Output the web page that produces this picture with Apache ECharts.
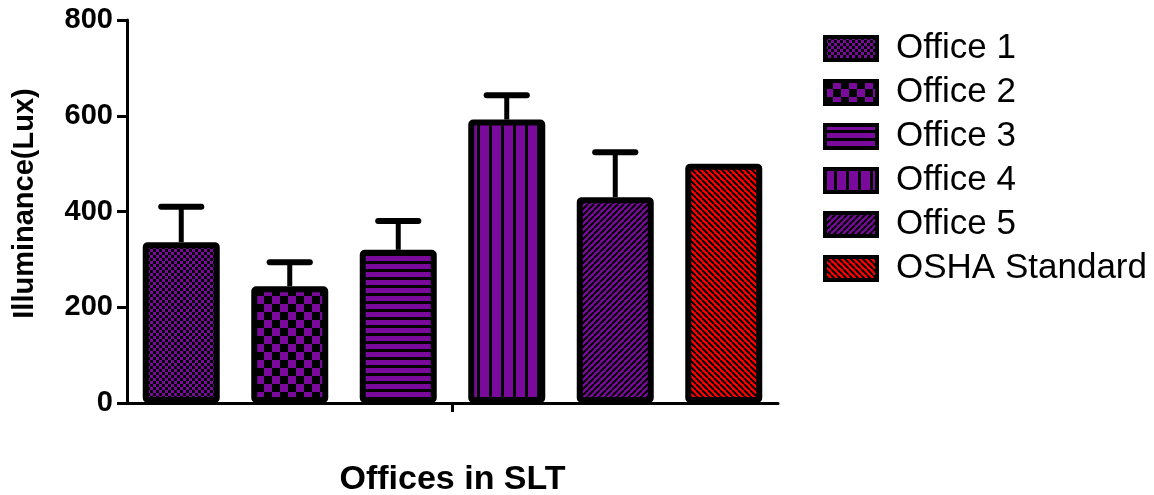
<!DOCTYPE html>
<html>
<head>
<meta charset="utf-8">
<script src="https://cdn.jsdelivr.net/npm/echarts@6/dist/echarts.min.js"></script>
<style>
  html, body { margin: 0; padding: 0; background: #fff; }
  #chart { width: 1154px; height: 495px; }
</style>
</head>
<body>
<div id="chart"></div>
<script>
// Mean illuminance per office (lux) and the upper end of each error bar.
const offices = ['Office 1', 'Office 2', 'Office 3', 'Office 4', 'Office 5', 'OSHA Standard'];
const illuminance = [336, 244, 320, 592, 430, 500];
const upperError = [410, 294, 380, 643, 524, null];
const yTicks = [0, 200, 400, 600, 800];

const PURPLE = '#7a0a9c';
const RED = '#ff0000';
const FONT = '"Liberation Sans", Arial, Helvetica, sans-serif';

// Small repeating canvas tiles used as hatch fills.
function tile(w, h, bg, draw) {
  const c = document.createElement('canvas');
  c.width = w; c.height = h;
  const g = c.getContext('2d');
  g.fillStyle = bg; g.fillRect(0, 0, w, h);
  g.fillStyle = '#000'; g.strokeStyle = '#000';
  draw(g, w, h);
  return { image: c, repeat: 'repeat' };
}
function checker(cell, bg) {
  return tile(cell * 2, cell * 2, bg, g => {
    g.fillRect(0, 0, cell, cell);
    g.fillRect(cell, cell, cell, cell);
  });
}
function hStripes(bg) {
  return tile(8, 8, bg, g => g.fillRect(0, 5, 8, 3));
}
function vStripes(bg) {
  return tile(12, 12, bg, g => g.fillRect(9, 0, 3, 12));
}
function diagonal(n, bg, rising) {
  return tile(n, n, bg, g => {
    g.lineWidth = 2;
    g.beginPath();
    for (const k of [-n, 0, n]) {
      if (rising) { g.moveTo(k, n); g.lineTo(k + n, 0); }
      else { g.moveTo(k, 0); g.lineTo(k + n, n); }
    }
    g.stroke();
  });
}

const fills = [
  checker(3, PURPLE),
  checker(8, PURPLE),
  hStripes(PURPLE),
  vStripes(PURPLE),
  diagonal(6, PURPLE, true),
  diagonal(6, RED, false)
];

const barSeries = offices.map((name, i) => ({
  name: name,
  type: 'bar',
  xAxisIndex: 0,
  stack: 'all',
  barWidth: 77,
  z: 3,
  data: offices.map((_, j) => (j === i ? illuminance[i] : '-')),
  itemStyle: {
    color: fills[i],
    borderColor: '#000',
    borderWidth: 6,
    borderRadius: 2
  }
}));

const errorData = upperError
  .map((u, i) => (u == null ? null : [i, illuminance[i], u]))
  .filter(Boolean);

const errorSeries = {
  name: 'SD',
  type: 'custom',
  xAxisIndex: 0,
  z: 2,
  encode: { x: 0, y: 2 },
  data: errorData,
  renderItem(params, api) {
    const idx = api.value(0);
    const base = api.coord([idx, api.value(1)]);
    const top = api.coord([idx, api.value(2)]);
    const half = api.size([1, 0])[0] * 0.185;
    return {
      type: 'group',
      children: [
        { type: 'line', shape: { x1: base[0], y1: base[1], x2: top[0], y2: top[1] },
          style: { stroke: '#000', lineWidth: 5 } },
        { type: 'line', shape: { x1: top[0] - half, y1: top[1], x2: top[0] + half, y2: top[1] },
          style: { stroke: '#000', lineWidth: 6, lineCap: 'round' } }
      ]
    };
  }
};

const chart = echarts.init(document.getElementById('chart'), null, { renderer: 'canvas' });
chart.setOption({
  animation: false,
  backgroundColor: '#fff',
  textStyle: { fontFamily: FONT },
  grid: { left: 127, right: 376, top: 20, bottom: 92, containLabel: false, outerBoundsMode: 'none' },
  legend: {
    data: offices,
    orient: 'vertical',
    left: 818,
    top: 26,
    itemWidth: 52,
    itemHeight: 23,
    itemGap: 9,
    icon: 'rect',
    itemStyle: { borderColor: '#000', borderWidth: 4 },
    textStyle: { fontFamily: FONT, fontSize: 35, color: '#000', padding: [0, 0, 0, 14] }
  },
  xAxis: [
    {
      type: 'category',
      data: offices,
      position: 'bottom',
      show: false
    },
    {
      type: 'category',
      data: [''],
      position: 'bottom',
      axisLine: { show: true, lineStyle: { color: '#000', width: 3 } },
      axisTick: { show: true, alignWithLabel: true, length: 9, lineStyle: { color: '#000', width: 3 } },
      axisLabel: { show: false },
      splitLine: { show: false },
      name: 'Offices in SLT',
      nameLocation: 'middle',
      nameGap: 60,
      nameTextStyle: { fontFamily: FONT, fontSize: 34, fontWeight: 'bold', color: '#000' }
    }
  ],
  yAxis: {
    type: 'value',
    min: yTicks[0],
    max: yTicks[yTicks.length - 1],
    interval: yTicks[1] - yTicks[0],
    axisLine: { show: true, lineStyle: { color: '#000', width: 3 } },
    axisTick: { show: true, length: 10, lineStyle: { color: '#000', width: 3 } },
    splitLine: { show: false },
    axisLabel: { fontFamily: FONT, fontSize: 29, fontWeight: 'bold', color: '#000', margin: 14 },
    name: 'Illuminance(Lux)',
    nameLocation: 'middle',
    nameGap: 88,
    nameTextStyle: { fontFamily: FONT, fontSize: 29, fontWeight: 'bold', color: '#000', padding: [0, 0, 0, 16] }
  },
  series: [...barSeries, errorSeries]
});
</script>
</body>
</html>
